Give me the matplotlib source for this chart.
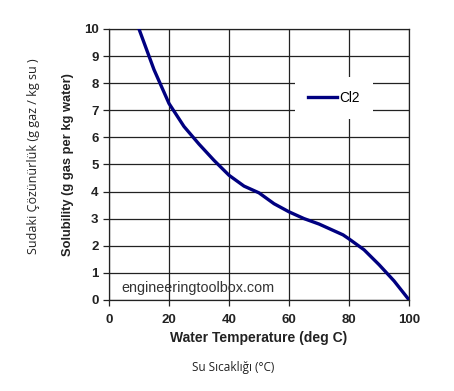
import matplotlib.pyplot as plt

# Cl2 solubility in water
temp = [10, 15, 20, 25, 30, 35, 40, 45, 50, 55, 60, 65, 70, 75, 78, 80, 85, 90, 95, 100]
solubility = [10.0, 8.5, 7.25, 6.4, 5.75, 5.15, 4.6, 4.2, 3.95, 3.55, 3.25, 3.0,
              2.8, 2.55, 2.4, 2.25, 1.85, 1.3, 0.7, 0.0]
xticks = [0, 20, 40, 60, 80, 100]
yticks = list(range(0, 11))

plt.rcParams['font.family'] = ['Liberation Sans', 'DejaVu Sans']

fig = plt.figure(figsize=(4.54, 3.91), dpi=100)
ax = fig.add_axes([0.240, 0.233, 0.661, 0.693])

ax.plot(temp, solubility, color='#000080', lw=2.4, label='Cl2', zorder=3)

ax.set_xlim(0, 100)
ax.set_ylim(0, 10)
ax.set_xticks(xticks)
ax.set_yticks(yticks)
ax.grid(True, color='#222222', lw=0.9)
ax.set_axisbelow(True)
for s in ax.spines.values():
    s.set_color('#222222')
    s.set_linewidth(0.9)
ax.tick_params(direction='out', length=4, width=0.9, colors='#222222', labelsize=9.5)
for lbl in ax.get_xticklabels() + ax.get_yticklabels():
    lbl.set_fontweight('bold')
ax.tick_params(axis='x', pad=6)

ax.set_xlabel('Water Temperature (deg C)', fontsize=10, fontweight='bold', color='#222222', labelpad=4)
ax.set_ylabel('Solubility (g gas per kg water)', fontsize=9.3, fontweight='bold', color='#222222', labelpad=7)

fig.text(0.513, 0.060, 'Su Sıcaklığı (°C)', ha='center', va='center', fontsize=8.5, color='#222222',
         family=['Open Sans', 'DejaVu Sans'])
fig.text(0.073, 0.60, 'Sudaki Çözünürlük (g gaz / kg su )', ha='center', va='center', rotation=90,
         fontsize=9.0, color='#222222', family=['Open Sans', 'DejaVu Sans'])

ax.text(4, 0.45, 'engineeringtoolbox.com', fontsize=10.4, color='#333333', va='center', ha='left')

leg = ax.legend(loc='center', bbox_to_anchor=(0.75, 0.745), frameon=True, fontsize=9.8,
                handlelength=2.1, borderpad=1.0, handletextpad=0.2)
leg.get_frame().set_edgecolor('none')
leg.get_frame().set_facecolor('white')
leg.get_frame().set_alpha(1)

fig.savefig('out.png', dpi=100)
